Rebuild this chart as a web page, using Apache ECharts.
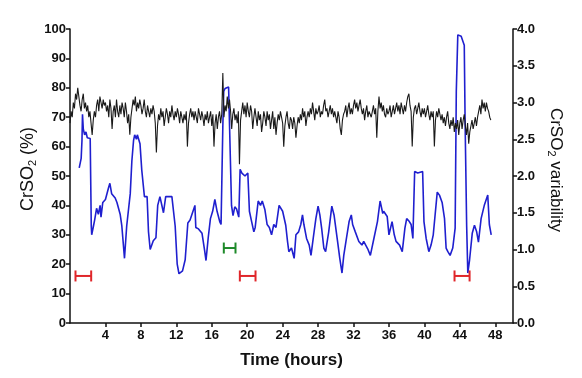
<!DOCTYPE html>
<html>
<head>
<meta charset="utf-8">
<script src="https://cdn.jsdelivr.net/npm/echarts@6/dist/echarts.min.js"></script>
<style>html,body{margin:0;padding:0;background:#fff}#c{width:582px;height:378px}</style>
</head>
<body>
<div id="c"></div>
<script>
// Time grid of the CrSO2 trace (hours): one sample every 0.125 h from 0
const crso2Start = 0;
const crso2Step = 0.125;
// CrSO2 (%) — black trace, left axis (8 samples per hour)
const crso2Values = [
  68,72,70,75,73,78,76,80,  77,74,72,76,78,73,75,72,  74,70,72,68,64,69,72,70,  74,76,72,77,75,73,76,74,
  75,72,74,70,76,73,66,72,  74,70,76,72,70,74,71,75,  73,70,75,72,68,71,64,70,  73,76,74,77,72,75,73,76,
  74,71,73,76,72,70,74,72,  70,73,71,74,72,68,58,67,  71,69,73,70,72,67,70,73,  71,68,72,70,74,71,69,72,
  70,73,71,68,72,70,68,71,  69,72,60,68,71,73,70,72,  69,72,70,68,73,71,69,72,  70,67,71,69,72,68,70,72,
  67,71,60,68,71,66,70,72,  68,71,85,70,74,72,77,73,  76,72,66,71,73,69,71,68,  72,54,69,72,75,71,74,70,
  75,72,70,74,72,66,70,73,  70,67,72,69,71,65,68,72,  70,67,72,69,71,66,69,72,  66,70,64,68,71,69,72,70,
  68,60,67,70,72,68,66,70,  69,66,70,68,63,67,70,68,  71,69,73,70,72,67,70,72,  70,73,71,75,72,69,73,71,
  72,74,70,72,71,74,76,72,  73,70,72,74,71,73,70,72,  70,68,72,70,66,64,69,71,  72,74,70,73,75,71,73,71,
  74,76,73,75,72,74,76,73,  71,73,69,72,74,70,72,71,  70,72,74,71,73,63,72,77,  73,75,72,74,71,70,73,71,
  72,74,70,72,74,71,73,75,  72,74,71,75,73,71,74,72,  75,77,78,74,72,60,70,73,  74,71,73,75,72,70,73,71,
  73,70,72,74,71,69,72,70,  72,60,69,72,70,73,71,69,  71,68,70,67,70,72,68,66,  69,67,70,65,68,66,69,64,
  68,70,66,69,71,67,64,68,  61,65,67,69,66,68,70,67,  70,72,74,71,76,73,75,72,  75,73,72,70,69
];
// CrSO2 variability — blue trace, right axis
const varTimes = [
  1.04,1.26,1.35,1.41,1.5,1.65,1.8,1.95,2.28,2.4,2.45,2.65,2.78,3.0,3.2,3.4,3.5,3.7,4.0,4.35,
  4.5,4.7,5.1,5.3,5.66,5.85,6.15,6.4,6.8,6.98,7.17,7.3,7.5,7.6,7.9,8.1,8.4,8.7,8.86,9.05,
  9.4,9.7,9.9,10.15,10.55,10.8,11.5,11.87,12.1,12.3,12.7,13.0,13.3,13.55,13.7,14.1,14.2,14.5,14.9,15.2,
  15.35,15.6,15.85,16.1,16.35,16.6,16.9,17.05,17.25,17.35,17.5,17.9,18.1,18.23,18.4,18.6,18.8,19.05,19.2,19.4,
  19.75,20.07,20.25,20.5,20.75,20.9,21.24,21.5,21.7,22.0,22.25,22.5,22.75,23.0,23.25,23.6,24.0,24.35,24.55,24.7,
  25.0,25.3,25.5,25.8,26.05,26.24,26.4,26.7,27.0,27.2,27.45,27.75,28.0,28.2,28.4,28.65,28.85,29.2,29.55,29.8,
  30.2,30.45,30.7,30.9,31.2,31.5,31.75,31.9,32.2,32.6,32.95,33.15,33.6,33.9,34.3,34.7,35.0,35.3,35.4,35.8,
  36.0,36.35,36.6,36.8,37.2,37.5,37.8,38.0,38.3,38.5,38.7,38.9,39.25,39.8,39.95,40.2,40.5,40.75,41.0,41.2,
  41.45,41.7,42.0,42.27,42.45,42.65,42.9,43.2,43.47,43.6,43.77,44.15,44.5,44.6,44.77,44.9,45.1,45.4,45.65,45.9,
  46.1,46.4,46.78,47.15,47.33,47.54
];
const varValues = [
  2.11,2.24,2.48,2.84,2.64,2.56,2.60,2.52,2.51,1.32,1.20,1.32,1.40,1.56,1.48,1.60,1.44,1.64,1.68,1.84,
  1.90,1.76,1.70,1.64,1.48,1.32,0.88,1.32,1.76,2.20,2.48,2.56,2.50,2.56,2.44,2.08,1.72,1.72,1.24,1.00,
  1.12,1.16,1.60,1.72,1.50,1.72,1.72,1.32,0.80,0.67,0.71,0.86,1.36,1.40,1.42,1.60,1.30,1.28,1.22,0.98,
  0.85,1.16,1.42,1.52,1.68,1.52,1.38,1.34,2.68,3.15,3.19,3.21,3.19,1.60,1.46,1.58,1.55,1.44,2.09,2.04,
  2.00,2.04,1.52,1.38,1.24,1.30,1.66,1.60,1.66,1.54,1.34,1.30,1.20,1.34,1.30,1.60,1.52,1.33,1.11,0.97,
  1.02,0.88,1.20,1.24,1.34,1.47,1.34,1.15,1.06,0.92,1.15,1.42,1.59,1.47,1.29,1.02,0.97,1.24,1.59,1.47,
  1.11,0.88,0.68,0.92,1.15,1.38,1.47,1.34,1.24,1.11,1.06,1.11,1.01,0.92,1.15,1.38,1.66,1.49,1.52,1.45,
  1.20,1.38,1.20,1.11,1.06,0.97,1.29,1.42,1.38,1.34,1.15,2.06,2.04,2.06,1.38,1.15,0.97,1.06,1.20,1.20,
  1.78,1.74,1.64,1.42,1.02,0.97,0.92,1.02,1.29,3.15,3.92,3.90,3.78,2.68,1.32,0.68,0.86,1.22,1.33,1.24,
  1.10,1.42,1.61,1.74,1.34,1.20
];
// Interval markers: [start h, end h, level %]
const redBars = [[0.62, 2.39, 16], [19.17, 20.94, 16], [43.4, 45.1, 16]];
const greenBars = [[17.36, 18.68, 25.5]];
const xTicks = [4, 8, 12, 16, 20, 24, 28, 32, 36, 40, 44, 48];

const crso2Data = crso2Values.map((v, i) => [crso2Start + i * crso2Step, v]);
const varData = varTimes.map((t, i) => [t, varValues[i]]);

function barSeries(bars, color) {
  return bars.map(b => ({
    type: 'line', yAxisIndex: 0, data: [[b[0], b[2]], [b[1], b[2]]],
    symbol: 'rect', symbolSize: [2, 11], showSymbol: true,
    lineStyle: {color: color, width: 2}, itemStyle: {color: color},
    silent: true, animation: false, z: 5
  }));
}

const FF = 'Liberation Sans, Arial, sans-serif';
const bold = {fontFamily: FF, fontWeight: 'bold', color: '#111'};
function nameStyle(size, padding) {
  return {fontSize: size, fontFamily: FF, color: '#111', padding: padding,
    rich: {s: {fontSize: Math.round(size * 0.62), verticalAlign: 'bottom', padding: [9, 0, 0, 0], fontFamily: FF, color: '#111'}}};
}
const chart = echarts.init(document.getElementById('c'));
chart.setOption({
  animation: false,
  grid: {left: 70, right: 69, top: 29, bottom: 55},
  xAxis: {
    type: 'value', min: 0, max: 50, interval: 4,
    name: 'Time (hours)', nameLocation: 'middle', nameGap: 29, nameMoveOverlap: false,
    nameTextStyle: Object.assign({fontSize: 17}, bold),
    axisLine: {show: true, onZero: false, lineStyle: {color: '#111', width: 1.5}},
    axisTick: {show: true, length: 4, lineStyle: {color: '#111', width: 1.5}, customValues: xTicks},
    axisLabel: Object.assign({fontSize: 13, margin: 6, customValues: xTicks,
      formatter: v => xTicks.includes(v) ? String(v) : ''}, bold),
    splitLine: {show: false}
  },
  yAxis: [{
    type: 'value', min: 0, max: 100, interval: 10,
    name: 'CrSO{s|2} (%)', nameLocation: 'middle', nameGap: 32, nameRotate: 90, nameMoveOverlap: false,
    nameTextStyle: nameStyle(18, [0, 0, 0, 14]),
    axisLine: {show: true, lineStyle: {color: '#111', width: 1.5}},
    axisTick: {show: true, length: 4, lineStyle: {color: '#111', width: 1.5}},
    axisLabel: Object.assign({fontSize: 13, margin: 4}, bold),
    splitLine: {show: false}
  }, {
    type: 'value', min: 0, max: 4, interval: 0.5, position: 'right',
    name: 'CrSO{s|2} variability', nameLocation: 'middle', nameGap: 33, nameRotate: -90, nameMoveOverlap: false,
    nameTextStyle: nameStyle(17, [0, 12, 0, 0]),
    axisLine: {show: true, lineStyle: {color: '#111', width: 1.5}},
    axisTick: {show: true, length: 4, lineStyle: {color: '#111', width: 1.5}},
    axisLabel: Object.assign({fontSize: 13, margin: 4, formatter: v => v.toFixed(1)}, bold),
    splitLine: {show: false}
  }],
  series: [{
    type: 'line', yAxisIndex: 0, data: crso2Data, showSymbol: false, symbol: 'none',
    lineStyle: {color: '#1a1a1a', width: 1.1}, z: 3
  }, {
    type: 'line', yAxisIndex: 1, data: varData, showSymbol: false, symbol: 'none',
    lineStyle: {color: '#1f1fcf', width: 1.6}, z: 2
  }].concat(barSeries(redBars, '#e0262a'), barSeries(greenBars, '#1e8a2a'))
});
</script>
</body>
</html>
